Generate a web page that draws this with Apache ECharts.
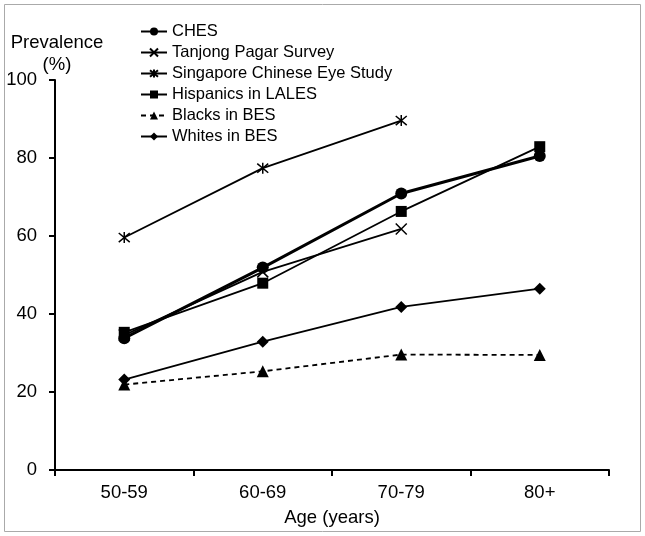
<!DOCTYPE html>
<html><head><meta charset="utf-8">
<script src="https://cdn.jsdelivr.net/npm/echarts@6/dist/echarts.min.js"></script>
<style>html,body{margin:0;padding:0;background:#fff}#c{width:645px;height:536px}</style>
</head><body><div id="c"></div>
<script>
var categories = ['50-59', '60-69', '70-79', '80+'];
var seriesNames = ['CHES', 'Tanjong Pagar Survey', 'Singapore Chinese Eye Study', 'Hispanics in LALES', 'Blacks in BES', 'Whites in BES'];
var ches = [33.8, 51.9, 70.9, 80.5];
var tanjong = [34.6, 50.8, 61.8, null];
var sces = [59.6, 77.4, 89.6, null];
var lales = [35.3, 47.9, 66.3, 82.9];
var blacks = [21.9, 25.3, 29.6, 29.5];
var whites = [23.2, 32.9, 41.8, 46.5];
var yTicks = [0, 20, 40, 60, 80, 100];
var yAxisTitle = 'Prevalence\n(%)';
var xAxisTitle = 'Age (years)';

var crossPath = 'path://M0,0L10,10M10,0L0,10';
var starPath = 'path://M0,0L10,10M10,0L0,10M5,-1L5,11';
var font = 'Liberation Sans, Arial, sans-serif';

function mk(name, data, symbol, size, opts) {
  opts = opts || {};
  var stroke = symbol.indexOf('path://') === 0;
  return {
    name: name, type: 'line', data: data,
    symbol: symbol, symbolSize: size,
    showSymbol: true,
    connectNulls: false,
    lineStyle: { color: '#000', width: opts.width || 1.8, type: opts.dash ? [5, 4] : 'solid' },
    itemStyle: stroke ? { color: 'rgba(0,0,0,0)', borderColor: '#000', borderWidth: 1.5 } : { color: '#000', borderWidth: 0 },
    emphasis: { disabled: true },
    animation: false
  };
}

var chart = echarts.init(document.getElementById('c'), null, { renderer: 'canvas' });
chart.setOption({
  animation: false,
  backgroundColor: '#fff',
  grid: { left: 55, right: 36, top: 80, bottom: 66 },
  legend: {
    orient: 'vertical', left: 140, top: 23, padding: 0,
    itemWidth: 26, itemHeight: 10, itemGap: 4,
    textStyle: { fontFamily: font, fontSize: 16.5, color: '#000' },
    data: seriesNames
  },
  xAxis: {
    type: 'category', data: categories, boundaryGap: true,
    axisLine: { lineStyle: { color: '#000', width: 2 } },
    axisTick: { show: true, length: 6, lineStyle: { color: '#000', width: 2 } },
    axisLabel: { fontFamily: font, fontSize: 18.5, color: '#000', margin: 13 },
    name: xAxisTitle, nameLocation: 'middle', nameGap: 38,
    nameTextStyle: { fontFamily: font, fontSize: 18.5, color: '#000' }
  },
  yAxis: {
    type: 'value', min: yTicks[0], max: yTicks[yTicks.length - 1], interval: 20,
    axisLine: { show: true, lineStyle: { color: '#000', width: 2 } },
    axisTick: { show: true, length: 6, lineStyle: { color: '#000', width: 2 } },
    splitLine: { show: false },
    axisLabel: { fontFamily: font, fontSize: 18.5, color: '#000', margin: 18 }
  },
  graphic: [{
    type: 'rect', shape: { x: 4.5, y: 4.5, width: 636, height: 527 },
    style: { fill: 'none', stroke: '#aaa', lineWidth: 1 }, silent: true
  }, {
    type: 'text', left: 'auto', x: 57, y: 32, silent: true,
    style: { text: yAxisTitle, fontFamily: font, fontSize: 18.5, fill: '#000', align: 'center', verticalAlign: 'top', lineHeight: 22 }
  }],
  series: [
    mk(seriesNames[0], ches, 'circle', 12, { width: 3 }),
    mk(seriesNames[1], tanjong, crossPath, 11),
    mk(seriesNames[2], sces, starPath, 11),
    mk(seriesNames[3], lales, 'rect', 11),
    mk(seriesNames[4], blacks, 'triangle', 12, { dash: true }),
    mk(seriesNames[5], whites, 'diamond', 12)
  ]
});
</script></body></html>
